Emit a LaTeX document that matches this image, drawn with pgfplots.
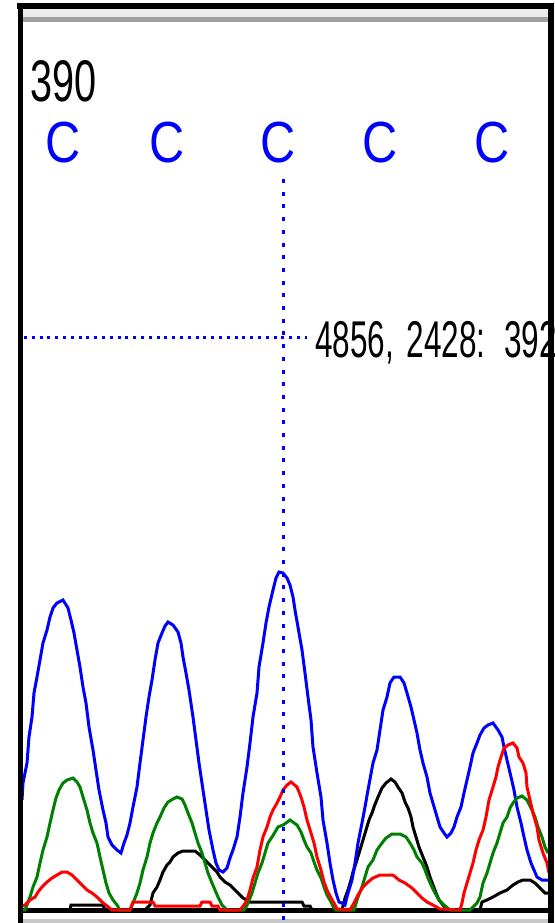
\documentclass[border=0pt]{standalone}
\usepackage{pgfplots}
\pgfplotsset{compat=1.18}
\usepackage{fontspec}
\setmainfont{Liberation Sans}
\newfontfamily\numfont[FakeStretch=0.675]{Liberation Sans}
\newfontfamily\curfont[FakeStretch=0.61]{Liberation Sans}
\newfontfamily\basefont[FakeStretch=0.84]{Liberation Sans}
\definecolor{tblue}{RGB}{0,0,255}
\definecolor{tgreen}{RGB}{0,128,0}
\definecolor{tred}{RGB}{255,0,0}
\definecolor{bandlight}{RGB}{235,235,235}
\definecolor{banddark}{RGB}{160,160,160}
\definecolor{botgray}{RGB}{200,200,200}
\newcommand{\basec}{\basefont\fontsize{58}{60}\selectfont C}
\begin{document}
\begin{tikzpicture}
\begin{axis}[
  at={(0,0)}, anchor=south west,
  width=554pt, height=923pt, scale only axis,
  xmin=0, xmax=554, ymin=0, ymax=923,
  y dir=reverse,
  hide axis,
  clip=true,
]
% frame
\fill[white] (0,0) rectangle (554,923);
\fill[bandlight] (23,9) rectangle (548,17);
\fill[banddark] (23,17) rectangle (548,22);
\fill[botgray] (23,919) rectangle (548,923);
% baseline
\draw[black, line width=5pt] (23,910.5) -- (548,910.5);
% black trace
\addplot[black, line width=3pt] coordinates {
(22,910) (70,910) (71,905) (103,905) (105,910) (145,910) (150,905) (153,893) (157,887) (160,880) (163,872) (167,865) (170,862) (173,857) (178,853) (183,851) (195,851) (200,855) (205,860) (208,863) (213,868) (217,872) (220,877) (225,882) (230,885) (235,890) (238,893) (243,898) (250,902) (302,902) (304,906) (310,906) (312,910) (342,910) (345,898) (348,890) (351,880) (353,872) (356,863) (360,850) (363,840) (366,830) (369,820) (372,813) (374,807) (378,797) (382,788) (386,783) (391,779) (395,782) (398,787) (402,793) (405,802) (408,808) (411,817) (413,827) (416,837) (419,847) (423,857) (427,867) (430,877) (433,885) (436,893) (439,900) (443,905) (447,910) (480,910) (482,902) (487,900) (493,897) (500,893) (507,890) (513,885) (518,882) (523,880) (530,880) (535,883) (540,888) (545,893) (550,893)
};
% blue trace
\addplot[tblue, line width=3pt] coordinates {
(22,800) (23,783) (27,763) (29,737) (32,717) (34,693) (37,677) (40,660) (43,643) (47,630) (50,617) (53,608) (57,603) (63,600) (68,608) (71,620) (74,633) (77,650) (80,667) (83,687) (86,703) (89,727) (93,750) (96,770) (99,790) (103,810) (106,823) (108,837) (112,845) (117,850) (121,853) (124,843) (127,835) (130,823) (133,807) (137,787) (140,763) (143,740) (146,717) (149,697) (152,680) (155,660) (158,643) (162,633) (165,626) (168,622) (173,625) (178,632) (181,643) (183,657) (186,673) (189,690) (193,717) (196,740) (199,763) (203,790) (206,810) (209,830) (213,850) (216,863) (219,870) (223,872) (227,868) (230,858) (233,850) (237,837) (240,817) (243,793) (247,767) (250,743) (253,717) (257,693) (259,667) (263,643) (266,623) (269,607) (273,590) (276,578) (279,572) (283,573) (287,578) (290,585) (293,597) (295,610) (298,627) (302,650) (305,673) (308,697) (311,720) (313,747) (317,773) (321,797) (323,820) (327,843) (330,863) (333,880) (336,893) (339,902) (342,903) (345,905) (348,893) (352,880) (355,863) (358,843) (362,823) (365,807) (368,790) (373,763) (377,750) (380,730) (383,710) (387,697) (390,683) (394,677) (400,677) (404,683) (407,693) (411,707) (414,720) (417,733) (420,750) (423,763) (427,777) (430,793) (435,810) (440,827) (444,833) (447,837) (451,833) (454,827) (457,817) (461,807) (464,793) (467,780) (470,767) (473,753) (477,743) (480,735) (484,728) (488,725) (493,723) (498,730) (502,737) (504,747) (507,760) (511,777) (514,790) (517,807) (521,823) (524,837) (527,850) (531,863) (534,870) (537,877) (542,880) (548,880)
};
% green trace
\addplot[tgreen, line width=3pt] coordinates {
(22,910) (25,910) (30,897) (33,887) (37,877) (40,863) (43,850) (47,837) (50,823) (53,810) (56,798) (59,790) (63,783) (67,780) (73,778) (77,782) (80,787) (83,797) (87,810) (90,823) (93,833) (97,843) (100,857) (103,870) (106,883) (109,893) (113,900) (117,905) (120,910) (130,910) (133,903) (137,893) (140,883) (143,870) (147,857) (150,843) (153,833) (157,823) (160,817) (164,808) (168,802) (173,799) (177,797) (182,799) (185,805) (188,813) (192,823) (195,833) (198,843) (202,853) (205,863) (208,873) (212,883) (215,890) (218,897) (222,905) (227,910) (244,910) (246,907) (248,903) (252,893) (255,883) (258,873) (262,863) (265,853) (268,843) (272,837) (275,832) (278,827) (283,825) (286,823) (290,820) (297,825) (301,832) (304,840) (307,847) (311,853) (314,862) (317,870) (321,878) (324,887) (327,895) (331,902) (334,908) (336,910) (354,910) (358,897) (362,887) (365,877) (368,867) (373,860) (377,850) (382,843) (386,838) (392,834) (400,834) (406,837) (410,843) (414,850) (417,857) (422,863) (425,870) (428,878) (432,887) (435,893) (439,900) (444,905) (450,910) (470,910) (477,903) (480,897) (483,883) (487,873) (490,863) (493,853) (497,843) (500,833) (503,823) (507,817) (510,808) (513,803) (517,798) (522,796) (527,800) (531,808) (535,817) (538,827) (542,837) (545,847) (548,853)
};
% red trace
\addplot[tred, line width=3pt] coordinates {
(22,906) (25,905) (30,900) (35,897) (38,892) (42,887) (47,882) (52,878) (57,875) (62,872) (67,872) (72,875) (77,880) (82,885) (87,890) (92,893) (97,897) (102,902) (107,906) (112,910) (130,910) (133,902) (153,902) (155,906) (200,906) (202,902) (210,902) (212,906) (218,906) (220,910) (240,910) (244,905) (247,900) (250,890) (253,878) (257,867) (260,850) (263,837) (267,827) (270,817) (273,810) (277,803) (280,797) (283,790) (287,785) (291,782) (297,787) (301,797) (304,807) (307,820) (311,833) (314,843) (317,857) (321,870) (324,882) (327,890) (331,898) (334,903) (337,909) (350,910) (354,903) (358,895) (363,887) (368,882) (373,878) (380,875) (393,875) (399,880) (405,883) (412,888) (417,893) (422,898) (427,902) (433,905) (440,909) (460,910) (462,903) (464,893) (467,883) (470,873) (473,863) (476,850) (479,840) (483,830) (486,817) (489,800) (493,787) (496,777) (498,767) (501,757) (504,748) (508,745) (513,743) (517,748) (519,757) (523,763) (526,773) (527,787) (530,800) (533,813) (537,827) (539,840) (543,853) (547,863) (549,873)
};
% cursor lines
\draw[tblue, line width=3pt, dash pattern=on 4pt off 8.7pt] (283,179) -- (283,923);
\draw[tblue, line width=3pt, dash pattern=on 3pt off 4.8pt] (24,337) -- (307,337);
% texts
\node[anchor=base west, inner sep=0pt, text=black] at (30,102) {\numfont\fontsize{58.7}{60}\selectfont 390};
\node[anchor=base west, inner sep=0pt, text=black] at (315,357) {\curfont\fontsize{51.7}{53}\selectfont 4856,\hspace{4pt} 2428:\hspace{7pt} 392};
\node[anchor=base, inner sep=0pt, text=tblue] at (63.5,162) {\basec};
\node[anchor=base, inner sep=0pt, text=tblue] at (167,162) {\basec};
\node[anchor=base, inner sep=0pt, text=tblue] at (278.5,162) {\basec};
\node[anchor=base, inner sep=0pt, text=tblue] at (380.5,162) {\basec};
\node[anchor=base, inner sep=0pt, text=tblue] at (492.5,162) {\basec};
% outer black frame
\fill[black] (17,3) rectangle (554,9);
\fill[black] (18,3) rectangle (23,923);
\fill[black] (548,3) rectangle (554,923);
\end{axis}
\pgfresetboundingbox
\useasboundingbox (0,0) rectangle (554pt,923pt);
\end{tikzpicture}
\end{document}
